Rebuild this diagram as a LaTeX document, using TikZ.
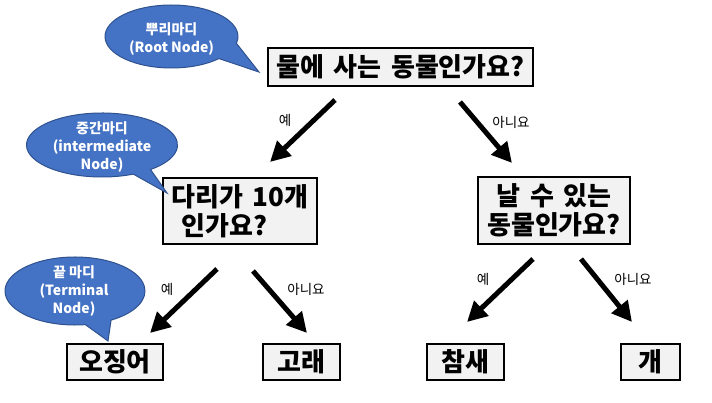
\documentclass[tikz,border=0pt]{standalone}
\usepackage{fontspec}
\setmainfont{Noto Sans CJK KR}
\newfontfamily\boxfont{Noto Sans CJK KR}[WordSpace=1.6]
\usetikzlibrary{arrows.meta}
\definecolor{bubblefill}{HTML}{4472C4}
\definecolor{bubbleline}{HTML}{2F528F}
\definecolor{boxfill}{HTML}{F2F2F2}
\tikzset{
  qbox/.style={draw=black, line width=2pt, fill=boxfill, inner sep=0pt,
    font=\boxfont\fontsize{26}{29}\selectfont\bfseries},
  bubble/.style={fill=bubblefill, draw=bubbleline, line width=1pt},
  bubtext/.style={text=white, font=\fontsize{14}{18}\selectfont\bfseries,
    align=center, inner sep=0pt},
  lbl/.style={font=\fontsize{13.5}{15}\selectfont, inner sep=0pt},
  bigarrow/.style={line width=5pt, -{Triangle[length=20pt,width=20pt]}},
}
\begin{document}
\begin{tikzpicture}[x=1pt,y=-1pt]
\useasboundingbox[fill=white] (0,0) rectangle (712,403);

% question boxes
\node[qbox, minimum width=265pt, minimum height=38pt] (root) at (400.5,67) {물에 사는 동물인가요?};
\node[qbox, minimum width=154pt, minimum height=66pt, align=left] (q2) at (240,211) {다리가 10개\\\hspace{0.4em}인가요?};
\node[qbox, minimum width=152pt, minimum height=67pt, align=center] (q3) at (554,210.5) {날 수 있는\\동물인가요?};

% leaves
\node[qbox, minimum width=96pt, minimum height=36pt] (squid) at (115,361.5) {오징어};
\node[qbox, minimum width=77pt, minimum height=36pt] (whale) at (301.5,361.5) {고래};
\node[qbox, minimum width=77pt, minimum height=36pt] (sparrow) at (465.5,361.5) {참새};
\node[qbox, minimum width=59pt, minimum height=36pt] (dog) at (650.5,361.5) {개};

% arrows
\coordinate (a1s) at (335,100); \coordinate (a1e) at (270,162);
\coordinate (a2s) at (460,102); \coordinate (a2e) at (512,163);
\coordinate (a3s) at (217,269); \coordinate (a3e) at (150,333);
\coordinate (a4s) at (253,271); \coordinate (a4e) at (307,333);
\coordinate (a5s) at (533,259); \coordinate (a5e) at (467,322);
\coordinate (a6s) at (581,259); \coordinate (a6e) at (632,322);
\draw[bigarrow] (a1s) -- (a1e);
\draw[bigarrow] (a2s) -- (a2e);
\draw[bigarrow] (a3s) -- (a3e);
\draw[bigarrow] (a4s) -- (a4e);
\draw[bigarrow] (a5s) -- (a5e);
\draw[bigarrow] (a6s) -- (a6e);

% labels
\node[lbl] (l1) at (285,120) {예};
\node[lbl] (l2) at (511,122) {아니요};
\node[lbl] (l3) at (167,289) {예};
\node[lbl] (l4) at (306,289) {아니요};
\node[lbl] (l5) at (483,279) {예};
\node[lbl] (l6) at (633,279) {아니요};

% callouts
\coordinate (t1) at (259,72);
\path[bubble] (171.5,36.5) ++(44.5:66.5 and 31.5)
  arc[start angle=44.5, end angle=372.5, x radius=66.5, y radius=31.5] -- (t1) -- cycle;
\node[bubtext] (b1) at (171.5,39.5) {뿌리마디\\(Root Node)};

\coordinate (t2) at (167,193);
\path[bubble] (102,145) ++(65.5:75.5 and 32)
  arc[start angle=65.5, end angle=410, x radius=75.5, y radius=32] -- (t2) -- cycle;
\node[bubtext] (b2) at (102,147) {중간마디\\(intermediate\\Node)};

\coordinate (t3) at (108,341);
\path[bubble] (75,291) ++(81.5:70 and 34)
  arc[start angle=81.5, end angle=419, x radius=70, y radius=34] -- (t3) -- cycle;
\node[bubtext] (b3) at (74,291) {끝 마디\\(Terminal\\Node)};
\end{tikzpicture}
\end{document}
